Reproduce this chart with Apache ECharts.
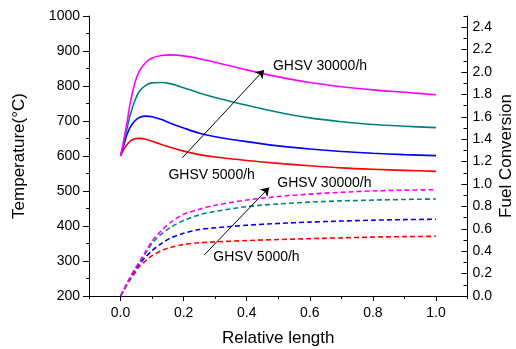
<!DOCTYPE html>
<html>
<head>
<meta charset="utf-8">
<script src="https://cdn.jsdelivr.net/npm/echarts@6/dist/echarts.min.js"></script>
<style>
  html, body { margin: 0; padding: 0; background: #fff; }
  #chart { width: 516px; height: 349px; }
</style>
</head>
<body>
<div id="chart"></div>
<script>
// Relative length vs. temperature (solid) and fuel conversion (dashed)
// for four GHSV levels, 5000/h (red) up to 30000/h (magenta).

const xMajorTicks = [0, 0.2, 0.4, 0.6, 0.8, 1.0];
const xMinorTicks = [-0.1, 0.1, 0.3, 0.5, 0.7, 0.9, 1.1];
const tempMajorTicks = [200, 300, 400, 500, 600, 700, 800, 900, 1000];
const tempMinorTicks = [250, 350, 450, 550, 650, 750, 850, 950];
const convMajorTicks = [0, 0.2, 0.4, 0.6, 0.8, 1.0, 1.2, 1.4, 1.6, 1.8, 2.0, 2.2, 2.4];
const convMinorTicks = [0.1, 0.3, 0.5, 0.7, 0.9, 1.1, 1.3, 1.5, 1.7, 1.9, 2.1, 2.3, 2.5];

// Sample positions along the reactor (relative length)
const positions = [0, 0.01, 0.02, 0.03, 0.045, 0.06, 0.08, 0.1, 0.13, 0.16, 0.2, 0.25, 0.3, 0.4, 0.5, 0.6, 0.7, 0.8, 0.9, 1.0];

// Temperature, °C
const tempMagenta = [600, 645, 693, 748, 808, 843, 867, 880, 887, 889, 886, 878, 868, 846, 826, 810, 798, 789, 782, 775];
const tempTeal    = [600, 637, 676, 715, 757, 785, 802, 809, 810, 806, 795, 780, 767, 745, 725, 709, 698, 690, 685, 681];
const tempBlue    = [600, 630, 660, 681, 700, 710, 714, 712, 704, 693, 680, 665, 655, 641, 629, 620, 613, 608, 604, 601];
const tempRed     = [600, 618, 632, 642, 649, 650.5, 648, 642, 633, 624, 614, 604, 597, 587, 579, 572, 566, 562, 559, 556];

// Fuel conversion, fraction
const convMagenta = [0, 0.055, 0.11, 0.165, 0.24, 0.305, 0.4, 0.49, 0.585, 0.66, 0.73, 0.775, 0.81, 0.857, 0.888, 0.91, 0.926, 0.938, 0.945, 0.949];
const convTeal    = [0, 0.055, 0.11, 0.16, 0.235, 0.295, 0.385, 0.47, 0.555, 0.615, 0.675, 0.725, 0.755, 0.798, 0.822, 0.838, 0.849, 0.856, 0.862, 0.866];
const convBlue    = [0, 0.052, 0.105, 0.155, 0.225, 0.285, 0.35, 0.405, 0.47, 0.52, 0.56, 0.593, 0.609, 0.632, 0.648, 0.66, 0.669, 0.677, 0.682, 0.685];
const convRed     = [0, 0.05, 0.1, 0.145, 0.205, 0.265, 0.315, 0.36, 0.405, 0.435, 0.46, 0.475, 0.483, 0.495, 0.504, 0.512, 0.519, 0.526, 0.53, 0.533];

// Trend arrows and their captions (temperature-axis coordinates)
const tempArrow = [[0.196, 595], [0.455, 846]];
const convArrow = [[0.265, 317], [0.471, 510]];
const captions = [
  { text: 'GHSV 30000/h', at: [0.483, 857] },
  { text: 'GHSV 5000/h', at: [0.152, 546] },
  { text: 'GHSV 30000/h', at: [0.497, 522] },
  { text: 'GHSV 5000/h', at: [0.294, 312] }
];

const FONT = '"Liberation Sans", Arial, sans-serif';
const COLORS = { magenta: '#ff00ff', teal: '#008080', blue: '#0000ff', red: '#ff0000' };

const axisLineStyle = { show: true, onZero: false, lineStyle: { color: '#000', width: 1 } };
const hiddenLine = { show: false, onZero: false };
const labelStyle = { color: '#000', fontSize: 14, fontFamily: FONT };
const nameStyle = { color: '#000', fontSize: 17, fontFamily: FONT };

const pairs = (values) => positions.map((x, i) => [x, values[i]]);

function solid(values, color, extra) {
  return Object.assign({
    type: 'line', data: pairs(values), xAxisIndex: 0, yAxisIndex: 0,
    showSymbol: false, smooth: 0.3,
    lineStyle: { color, width: 1.6 }, itemStyle: { color }, silent: true
  }, extra || {});
}
function dashed(values, color) {
  return {
    type: 'line', data: pairs(values), xAxisIndex: 0, yAxisIndex: 1,
    showSymbol: false, smooth: 0.3,
    lineStyle: { color, width: 1.6, type: [5, 3] }, itemStyle: { color }, silent: true
  };
}

const arrowLine = (pts) => [{ coord: pts[0] }, { coord: pts[1] }];

const chart = echarts.init(document.getElementById('chart'), null, { renderer: 'canvas' });
chart.setOption({
  animation: false,
  backgroundColor: '#fff',
  grid: { left: 89, top: 16, width: 378.5, height: 280, containLabel: false, outerBoundsMode: 'none' },
  xAxis: [
    {
      type: 'value', min: -0.1, max: 1.1,
      name: 'Relative length', nameLocation: 'middle', nameGap: 34, nameMoveOverlap: false, nameTextStyle: nameStyle,
      axisLine: axisLineStyle,
      axisTick: { show: true, length: 5, customValues: xMajorTicks, lineStyle: { color: '#000' } },
      axisLabel: Object.assign({ margin: 10, customValues: xMajorTicks, formatter: v => v.toFixed(1) }, labelStyle),
      splitLine: { show: false }
    },
    {
      type: 'value', min: -0.1, max: 1.1, position: 'bottom',
      axisLine: hiddenLine, axisLabel: { show: false }, splitLine: { show: false },
      axisTick: { show: true, length: 3, customValues: xMinorTicks, lineStyle: { color: '#000' } }
    }
  ],
  yAxis: [
    {
      type: 'value', min: 200, max: 1000, position: 'left',
      name: 'Temperature(°C)', nameLocation: 'middle', nameGap: 61, nameRotate: 90, nameMoveOverlap: false, nameTextStyle: nameStyle,
      axisLine: axisLineStyle,
      axisTick: { show: true, length: 6, customValues: tempMajorTicks, lineStyle: { color: '#000' } },
      axisLabel: Object.assign({ margin: 9, customValues: tempMajorTicks, formatter: v => String(v) }, labelStyle),
      splitLine: { show: false }
    },
    {
      type: 'value', min: 0, max: 2.5, position: 'right',
      name: 'Fuel Conversion', nameLocation: 'middle', nameGap: 30, nameRotate: 90, nameMoveOverlap: false, nameTextStyle: nameStyle,
      axisLine: axisLineStyle,
      axisTick: { show: true, inside: true, length: 6, customValues: convMajorTicks, lineStyle: { color: '#000' } },
      axisLabel: Object.assign({ margin: 5, customValues: convMajorTicks, formatter: v => v.toFixed(1) }, labelStyle),
      splitLine: { show: false }
    },
    {
      type: 'value', min: 200, max: 1000, position: 'left',
      axisLine: hiddenLine, axisLabel: { show: false }, splitLine: { show: false },
      axisTick: { show: true, length: 3, customValues: tempMinorTicks, lineStyle: { color: '#000' } }
    },
    {
      type: 'value', min: 0, max: 2.5, position: 'right',
      axisLine: hiddenLine, axisLabel: { show: false }, splitLine: { show: false },
      axisTick: { show: true, inside: true, length: 4, customValues: convMinorTicks, lineStyle: { color: '#000' } }
    }
  ],
  series: [
    solid(tempRed, COLORS.red, {
      markLine: {
        silent: true, symbol: ['none', 'arrow'], symbolSize: 8, precision: 4,
        label: { show: false },
        lineStyle: { color: '#000', width: 1, type: 'solid' },
        emphasis: { disabled: true },
        data: [arrowLine(tempArrow), arrowLine(convArrow)]
      },
      markPoint: {
        silent: true,
        data: captions.map(c => ({
          coord: c.at, symbol: 'circle', symbolSize: 0,
          label: { show: true, position: 'right', distance: 0, formatter: c.text, color: '#000', fontSize: 14, fontFamily: FONT }
        }))
      }
    }),
    solid(tempBlue, COLORS.blue),
    solid(tempTeal, COLORS.teal),
    solid(tempMagenta, COLORS.magenta),
    dashed(convRed, COLORS.red),
    dashed(convBlue, COLORS.blue),
    dashed(convTeal, COLORS.teal),
    dashed(convMagenta, COLORS.magenta)
  ]
});
</script>
</body>
</html>
